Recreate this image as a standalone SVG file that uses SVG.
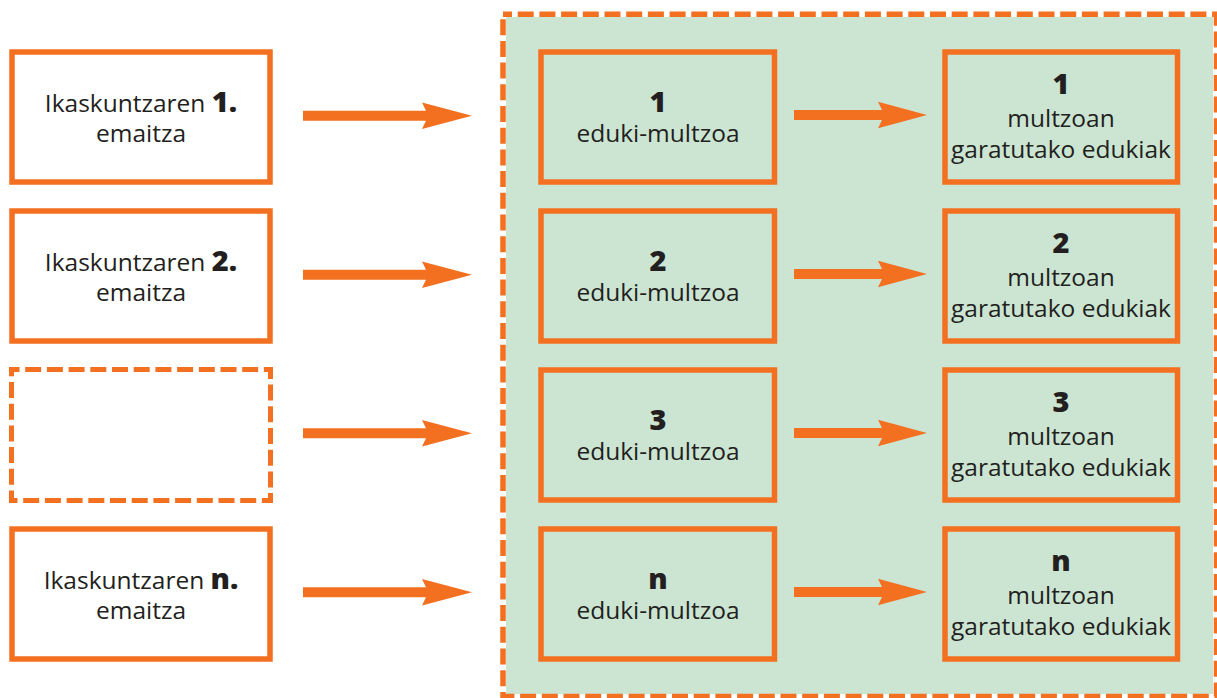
<svg xmlns="http://www.w3.org/2000/svg" width="1217" height="698" viewBox="0 0 1217 698">
  <style>
    .box { fill: #ffffff; stroke: #f37021; stroke-width: 5.5; }
    .box-dash { fill: #ffffff; stroke: #f37021; stroke-width: 5; stroke-dasharray: 16 5.7; stroke-dashoffset: 8; }
    .inner { fill: #cce5d3; stroke: #f37021; stroke-width: 5.5; }
    .area { fill: #cce5d3; }
    .area-border { fill: none; stroke: #f37021; stroke-width: 5.5; stroke-dasharray: 16 5.7; stroke-dashoffset: 7; }
    .arrow { fill: #f37021; }
    text { font-family: "Open Sans", "Liberation Sans", sans-serif; font-size: 24.5px; fill: #231f20; text-anchor: middle; }
    .num { font-weight: 900; font-size: 29px; }
  </style>
  <defs>
    <!-- block arrow, tip at origin pointing right -->
    <polygon id="arw" points="-169,-5 -46,-5 -50,-13.3 0,0 -50,13.3 -46,5 -169,5"/>
    <polygon id="arw-short" points="-133,-5 -45,-5 -49,-13.3 0,0 -49,13.3 -45,5 -133,5"/>
  </defs>

  <!-- shaded area grouping the content blocks -->
  <g id="content-area">
    <rect class="area" x="506" y="17" width="707" height="677"/>
    <rect class="area-border" x="503" y="14.2" width="713.5" height="682.3"/>
  </g>

  <!-- learning outcomes -->
  <g id="outcome-1">
    <rect class="box" x="12" y="52" width="258" height="130"/>
    <text x="141" y="111.7">Ikaskuntzaren <tspan class="num">1.</tspan></text>
    <text x="141" y="141.7">emaitza</text>
  </g>
  <g id="outcome-2">
    <rect class="box" x="12" y="211" width="258" height="130"/>
    <text x="141" y="270.7">Ikaskuntzaren <tspan class="num">2.</tspan></text>
    <text x="141" y="300.7">emaitza</text>
  </g>
  <g id="outcome-3">
    <rect class="box-dash" x="11.5" y="369.5" width="259" height="131"/>
  </g>
  <g id="outcome-n">
    <rect class="box" x="12" y="529" width="258" height="130"/>
    <text x="141" y="588.7">Ikaskuntzaren <tspan class="num">n.</tspan></text>
    <text x="141" y="618.7">emaitza</text>
  </g>

  <!-- content blocks -->
  <g id="block-1">
    <rect class="inner" x="541" y="52" width="233.5" height="130"/>
    <text class="num" x="658" y="111.7">1</text>
    <text x="658" y="141.7">eduki-multzoa</text>
  </g>
  <g id="block-2">
    <rect class="inner" x="541" y="211" width="233.5" height="130"/>
    <text class="num" x="658" y="270.7">2</text>
    <text x="658" y="300.7">eduki-multzoa</text>
  </g>
  <g id="block-3">
    <rect class="inner" x="541" y="370" width="233.5" height="130"/>
    <text class="num" x="658" y="429.7">3</text>
    <text x="658" y="459.7">eduki-multzoa</text>
  </g>
  <g id="block-n">
    <rect class="inner" x="541" y="529" width="233.5" height="130"/>
    <text class="num" x="658" y="588.7">n</text>
    <text x="658" y="618.7">eduki-multzoa</text>
  </g>

  <!-- developed contents -->
  <g id="developed-1">
    <rect class="inner" x="945" y="52" width="232.5" height="130"/>
    <text class="num" x="1061" y="94.3">1</text>
    <text x="1061" y="127.3">multzoan</text>
    <text x="1061" y="158.3">garatutako edukiak</text>
  </g>
  <g id="developed-2">
    <rect class="inner" x="945" y="211" width="232.5" height="130"/>
    <text class="num" x="1061" y="253.3">2</text>
    <text x="1061" y="286.3">multzoan</text>
    <text x="1061" y="317.3">garatutako edukiak</text>
  </g>
  <g id="developed-3">
    <rect class="inner" x="945" y="370" width="232.5" height="130"/>
    <text class="num" x="1061" y="412.3">3</text>
    <text x="1061" y="445.3">multzoan</text>
    <text x="1061" y="476.3">garatutako edukiak</text>
  </g>
  <g id="developed-n">
    <rect class="inner" x="945" y="529" width="232.5" height="130"/>
    <text class="num" x="1061" y="571.3">n</text>
    <text x="1061" y="604.3">multzoan</text>
    <text x="1061" y="635.3">garatutako edukiak</text>
  </g>

  <!-- connectors -->
  <g id="connectors" class="arrow">
    <use href="#arw" x="472" y="115.7"/>
    <use href="#arw" x="472" y="274.7"/>
    <use href="#arw" x="472" y="433.3"/>
    <use href="#arw" x="472" y="592.3"/>
    <use href="#arw-short" x="927" y="115"/>
    <use href="#arw-short" x="927" y="274"/>
    <use href="#arw-short" x="927" y="433"/>
    <use href="#arw-short" x="927" y="592"/>
  </g>
</svg>
